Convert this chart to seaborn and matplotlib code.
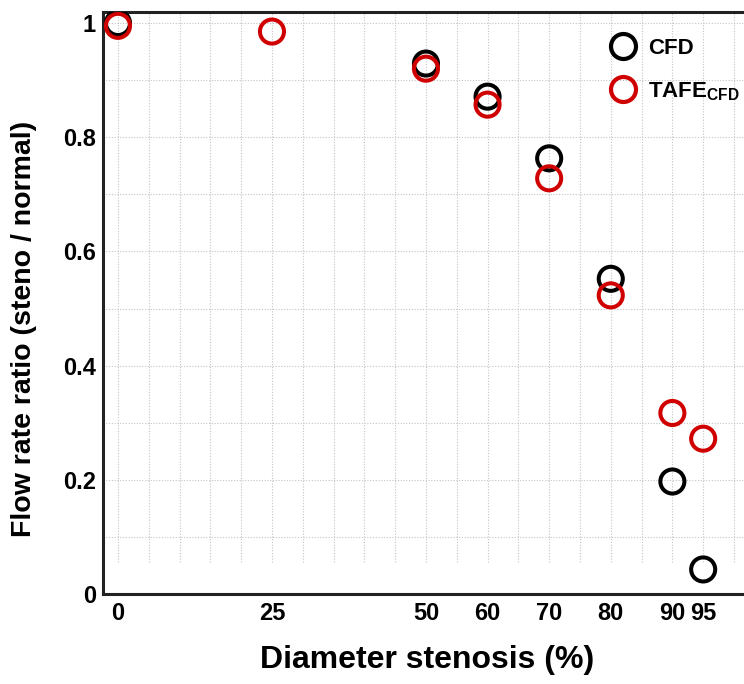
import matplotlib
matplotlib.use("Agg")
import matplotlib.pyplot as plt
import seaborn as sns
import pandas as pd
import numpy as np
from matplotlib.lines import Line2D

# Data
stenosis = [0, 25, 50, 60, 70, 80, 90, 95]
cfd = [1.0, None, 0.929, 0.871, 0.763, 0.552, 0.197, 0.043]
tafe = [0.995, 0.985, 0.920, 0.857, 0.728, 0.523, 0.317, 0.272]
xtick_vals = [0, 25, 50, 60, 70, 80, 90, 95]
ytick_vals = [0, 0.2, 0.4, 0.6, 0.8, 1]
ytick_labels = ["0", "0.2", "0.4", "0.6", "0.8", "1"]

rows = []
for x, c in zip(stenosis, cfd):
    if c is not None:
        rows.append({"stenosis": x, "ratio": c, "method": "CFD"})
for x, t in zip(stenosis, tafe):
    rows.append({"stenosis": x, "ratio": t, "method": "TAFE"})
df = pd.DataFrame(rows)

sns.set_style("white")
plt.rcParams["font.family"] = ["Liberation Sans", "DejaVu Sans"]
plt.rcParams["font.weight"] = "bold"
plt.rcParams["text.color"] = "black"
plt.rcParams["axes.labelcolor"] = "black"
plt.rcParams["xtick.color"] = "black"
plt.rcParams["ytick.color"] = "black"
plt.rcParams["mathtext.fontset"] = "custom"
plt.rcParams["mathtext.bf"] = "Liberation Sans:bold"
plt.rcParams["mathtext.rm"] = "Liberation Sans:bold"

W, H = 744, 684
fig = plt.figure(figsize=(W / 100, H / 100), dpi=100)
left, right, top, bottom = 103, 752, 12, 594
ax = fig.add_axes([left / W, 1 - bottom / H, (right - left) / W, (bottom - top) / H])

xmin = -2.43
xmax = xmin + (right - left) / 6.16
ymin, ymax = 0.0, (bottom - top) / 571.0

# grid (drawn under points)
for gx in np.arange(0, 101, 5):
    ax.plot([gx, gx], [0.056, ymax], color="#c4c4c4", lw=0.8, ls=(0, (1, 1.5)), zorder=0)
for gy in np.arange(0.1, 1.01, 0.1):
    ax.axhline(gy, color="#c4c4c4", lw=0.8, ls=(0, (1, 1.5)), zorder=0)

palette = {"CFD": "black", "TAFE": "#d00000"}
sns.scatterplot(data=df, x="stenosis", y="ratio", hue="method", palette=palette,
                ax=ax, s=300, marker="o", linewidth=2.9, legend=False, zorder=3)
coll = ax.collections[-1]
coll.set_edgecolors([palette[m] for m in df["method"]])
coll.set_facecolors("none")

ax.set_xlim(xmin, xmax)
ax.set_ylim(ymin, ymax)
ax.set_xticks(xtick_vals)
ax.set_xticklabels([str(v) for v in xtick_vals])
ax.set_xticks(np.arange(0, 101, 5), minor=True)
ax.set_yticks(ytick_vals)
ax.set_yticklabels(ytick_labels)
ax.set_yticks(np.arange(0.1, 1.0, 0.2), minor=True)

ax.tick_params(axis="both", which="major", direction="in", length=9.5, width=2,
               labelsize=17, color="#222222", labelcolor="black")
ax.tick_params(axis="x", which="major", pad=6)
ax.tick_params(axis="y", which="major", pad=5)
ax.tick_params(axis="y", which="minor", direction="in", length=5, width=1.5, color="#222222")
ax.tick_params(axis="x", which="minor", direction="in", length=2.5, width=1.5, color="#222222")
for lab in ax.get_xticklabels() + ax.get_yticklabels():
    lab.set_fontweight("bold")

for side in ["left", "bottom", "top", "right"]:
    ax.spines[side].set_linewidth(2.2)
    ax.spines[side].set_color("#222222")

ax.set_xlabel("Diameter stenosis (%)", fontsize=23, fontweight="bold", labelpad=14, color="black")
ax.set_ylabel("Flow rate ratio (steno / normal)", fontsize=20.5, fontweight="bold", color="black")
# place ylabel center at ~ (24, 329) px
ax.yaxis.set_label_coords((24 - left) / (right - left), (bottom - 329) / (bottom - top))
ax.yaxis.label.set_verticalalignment("center")

handles = [Line2D([], [], ls="none", marker="o", markersize=18, markerfacecolor="none",
                  markeredgecolor=palette[k], markeredgewidth=3.0) for k in ["CFD", "TAFE"]]
labels = ["CFD", r"TAFE$_{\mathbf{CFD}}$"]
leg = ax.legend(handles, labels, loc="upper left",
                bbox_to_anchor=((609 - left) / (right - left), 1 - (38 - top) / (bottom - top)),
                frameon=False, fontsize=16, handletextpad=0.45, labelspacing=0.95,
                handlelength=1.3, borderaxespad=0, borderpad=0)
for t in leg.get_texts():
    t.set_fontweight("bold")
    t.set_color("black")

fig.savefig("out.png", dpi=100)
